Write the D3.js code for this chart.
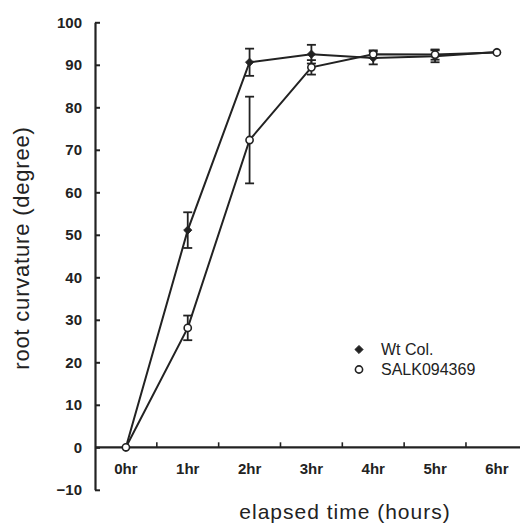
<!doctype html>
<html lang="en">
  <head>
    <meta charset="utf-8">
    <title>root curvature</title>
    <script src="https://d3js.org/d3.v7.min.js"></script>
    <style>
      body { margin: 0; background: #fff; }
      text { font-family: "Liberation Sans", Arial, sans-serif; fill: #222; }
    </style>
  </head>

  <body>
    <svg width="520" height="525"></svg>

    <script>
      var hours = ['0hr', '1hr', '2hr', '3hr', '4hr', '5hr', '6hr'];
      var wtMean = [0, 51.1, 90.6, 92.5, 91.6, 92.0, 93.0];
      var wtErr = [0, 4.2, 3.2, 2.2, 1.5, 1.4, 0];
      var salkMean = [0, 28.1, 72.3, 89.4, 92.5, 92.4, 92.9];
      var salkErr = [0, 2.9, 10.2, 1.7, 0.9, 1.2, 0];
      var yTicks = [-10, 0, 10, 20, 30, 40, 50, 60, 70, 80, 90, 100];

      var ink = '#222';
      var svg = d3.select('svg');

      var x = d3.scalePoint().domain(hours).range([95, 527.8]).padding(0.5);
      var step = x.step();
      var y = d3.scaleLinear().domain([-10, 100]).range([489.8, 22.3]);

      // y axis, ticks point inward
      var yAxis = svg.append('g')
        .attr('transform', 'translate(95,0)')
        .call(d3.axisLeft(y).tickValues(yTicks).tickSizeInner(-5).tickSizeOuter(0).tickPadding(13)
          .tickFormat(function(d){ return d < 0 ? '\u221210' : d; }));
      yAxis.select('.domain').attr('stroke', ink).attr('stroke-width', 2.2);
      yAxis.selectAll('.tick line').attr('stroke', ink).attr('stroke-width', 2);
      yAxis.selectAll('.tick text').style('font-size', '15px').style('font-weight', 'bold').attr('fill', ink);

      // x axis sits on y = 0, ticks between categories
      var xAxis = svg.append('g').attr('transform', 'translate(0,' + y(0) + ')');
      xAxis.append('line').attr('x1', 95).attr('x2', 528)
        .attr('stroke', ink).attr('stroke-width', 2.2);
      xAxis.selectAll('.sep').data(hours.slice(0, -1)).enter().append('line')
        .attr('x1', function(d){ return x(d) + step / 2; })
        .attr('x2', function(d){ return x(d) + step / 2; })
        .attr('y1', 0).attr('y2', -5)
        .attr('stroke', ink).attr('stroke-width', 1.6);
      xAxis.selectAll('.lab').data(hours).enter().append('text')
        .attr('x', function(d){ return x(d); })
        .attr('y', 27)
        .attr('text-anchor', 'middle')
        .style('font-size', '15px').style('font-weight', 'bold')
        .text(function(d){ return d; });

      // axis titles
      svg.append('text')
        .attr('transform', 'translate(29,248) rotate(-90)')
        .attr('text-anchor', 'middle')
        .style('font-size', '22px').style('letter-spacing', '0.8px')
        .text('root curvature (degree)');
      svg.append('text')
        .attr('x', 345).attr('y', 519)
        .attr('text-anchor', 'middle')
        .style('font-size', '21px').style('letter-spacing', '1px')
        .text('elapsed time (hours)');

      var line = d3.line()
        .x(function(d, i){ return x(hours[i]); })
        .y(function(d){ return y(d); });

      var series = [
        { mean: wtMean, err: wtErr, kind: 'diamond' },
        { mean: salkMean, err: salkErr, kind: 'circle' }
      ];

      series.forEach(function(s){
        svg.append('path').datum(s.mean)
          .attr('d', line)
          .attr('fill', 'none').attr('stroke', ink).attr('stroke-width', 2);
      });

      series.forEach(function(s){
        s.mean.forEach(function(m, i){
          if (!s.err[i]) return;
          var cx = x(hours[i]);
          var g = svg.append('g').attr('stroke', ink).attr('stroke-width', 1.8);
          g.append('line').attr('x1', cx).attr('x2', cx).attr('y1', y(m - s.err[i])).attr('y2', y(m + s.err[i]));
          [m - s.err[i], m + s.err[i]].forEach(function(v){
            g.append('line').attr('x1', cx - 4.5).attr('x2', cx + 4.5).attr('y1', y(v)).attr('y2', y(v));
          });
        });
      });

      var drawMarker = function(kind, cx, cy){
        if (kind === 'diamond') {
          svg.append('path')
            .attr('d', d3.symbol().type(d3.symbolSquare).size(34)())
            .attr('transform', 'translate(' + cx + ',' + cy + ') rotate(45)')
            .attr('fill', ink).attr('stroke', ink).attr('stroke-width', 0.8);
        } else {
          svg.append('circle')
            .attr('cx', cx).attr('cy', cy).attr('r', 3.6)
            .attr('fill', '#fff').attr('stroke', ink).attr('stroke-width', 1.6);
        }
      };

      series.forEach(function(s){
        s.mean.forEach(function(m, i){ drawMarker(s.kind, x(hours[i]), y(m)); });
      });

      // legend
      var legend = [['diamond', 'Wt Col.'], ['circle', 'SALK094369']];
      legend.forEach(function(l, i){
        drawMarker(l[0], 359, 349.5 + i * 20);
        svg.append('text')
          .attr('x', 381).attr('y', 355 + i * 20)
          .style('font-size', '16px')
          .text(l[1]);
      });
    </script>
  </body>
</html>
